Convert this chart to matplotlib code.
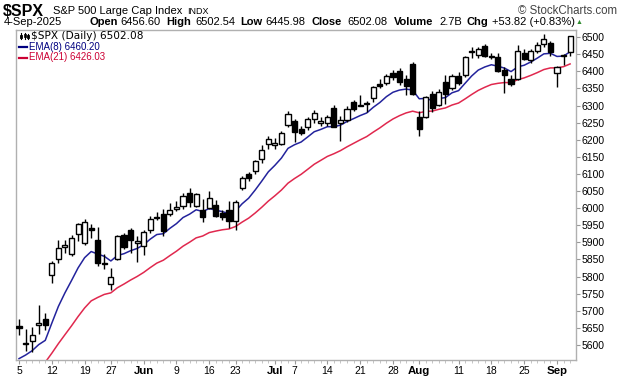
import matplotlib
matplotlib.use('Agg')
import matplotlib.pyplot as plt
from matplotlib.patches import Rectangle
from matplotlib.lines import Line2D
import numpy as np

# ---------------- data ----------------
opens = [5655, 5604, 5612, 5659, 5675, 5806, 5852, 5886, 5866, 5925,
         5898, 5942, 5908, 5839, 5778, 5852, 5921, 5936, 5899, 5890,
         5936, 5974, 5982, 5982, 5999, 6006, 6045, 6006, 5996, 6000,
         6009, 5986, 5996, 5963, 6058, 6100, 6108, 6145, 6189, 6184,
         6189, 6243, 6254, 6231, 6238, 6262, 6250, 6250, 6293, 6248,
         6257, 6309, 6300, 6308, 6321, 6364, 6365, 6394, 6401, 6377,
         6423, 6267, 6267, 6334, 6302, 6370, 6352, 6386, 6390, 6458,
         6448, 6474, 6444, 6442, 6403, 6378, 6378, 6454, 6432, 6461,
         6480, 6483, 6396, 6444, 6456.6]
highs = [5677, 5646, 5652, 5716, 5692, 5845, 5906, 5906, 5922, 5958,
         5968, 5953, 5946, 5866, 5826, 5922, 5928, 5943, 5918, 5936,
         5978, 5988, 5998, 6014, 6021, 6043, 6058, 6045, 6026, 6049,
         6025, 5995, 6021, 6025, 6095, 6107, 6142, 6184, 6210, 6206,
         6227, 6283, 6260, 6241, 6268, 6287, 6266, 6273, 6303, 6270,
         6299, 6317, 6332, 6312, 6358, 6378, 6392, 6403, 6409, 6389,
         6427, 6285, 6329, 6342, 6349, 6390, 6392, 6399, 6446, 6470,
         6472, 6481, 6453, 6455, 6412, 6388, 6476, 6466, 6466, 6487,
         6508, 6489, 6416, 6451, 6502.5]
lows = [5630, 5582, 5580, 5632, 5645, 5780, 5840, 5868, 5860, 5905,
        5893, 5912, 5830, 5823, 5760, 5848, 5881, 5868, 5842, 5862,
        5928, 5966, 5918, 5976, 5992, 5998, 6002, 6002, 5961, 5998,
        5974, 5966, 5942, 5937, 6052, 6080, 6100, 6132, 6172, 6174,
        6184, 6238, 6194, 6213, 6230, 6250, 6241, 6241, 6236, 6196,
        6252, 6284, 6298, 6282, 6311, 6352, 6360, 6375, 6361, 6332,
        6332, 6211, 6265, 6282, 6298, 6305, 6345, 6360, 6384, 6440,
        6440, 6443, 6436, 6398, 6337, 6357, 6376, 6432, 6425, 6453,
        6470, 6445, 6354, 6420, 6446]
closes = [5650, 5607, 5628, 5663, 5657, 5840, 5884, 5891, 5914, 5955,
          5960, 5936, 5840, 5836, 5798, 5918, 5885, 5906, 5905, 5931,
          5967, 5970, 5934, 5996, 6003, 6035, 6017, 6040, 5973, 6029,
          5977, 5975, 5963, 6018, 6087, 6087, 6137, 6170, 6201, 6192,
          6221, 6274, 6223, 6221, 6260, 6277, 6254, 6266, 6238, 6259,
          6291, 6291, 6302, 6305, 6353, 6358, 6386, 6384, 6368, 6358,
          6335, 6231, 6325, 6292, 6341, 6334, 6386, 6366, 6441, 6461,
          6464, 6445, 6442, 6400, 6390, 6364, 6461, 6435, 6461, 6478,
          6495, 6458, 6412, 6448, 6502.08]

# EMA values on the first visible day
ema8_start = 5560
ema21_start = 5507

tick_days = [0, 5, 10, 14, 19, 24, 29, 33, 39, 42, 47, 52, 57, 61, 67, 72, 77, 82]
tick_labels = ["5", "12", "19", "27", "Jun", "9", "16", "23", "Jul", "7", "14",
               "21", "28", "Aug", "11", "18", "25", "Sep"]
month_labels = {"Jun", "Jul", "Aug", "Sep"}
y_ticks = list(range(5600, 6501, 50))

# ---------------- figure ----------------
W, H = 620, 376
fig = plt.figure(figsize=(W / 100, H / 100), dpi=100)
plt.rcParams['font.family'] = ['Liberation Sans', 'DejaVu Sans']

L, R, T, B = 16, 576, 30, 360
ax = fig.add_axes([L / W, 1 - B / H, (R - L) / W, (B - T) / H])

n = len(closes)
x = np.arange(n)
o = np.array(opens, float); c = np.array(closes, float)
h = np.array(highs, float); lo = np.array(lows, float)

# wicks
ax.vlines(x, lo, h, color='black', linewidth=1.0, zorder=3)
# bodies
up = c >= o
bottom = np.minimum(o, c)
height = np.maximum(np.abs(c - o), 0.8)
bw = 0.78
ax.bar(x[up], height[up], bw, bottom=bottom[up], facecolor='white',
       edgecolor='black', linewidth=1.0, zorder=4)
ax.bar(x[~up], height[~up], bw, bottom=bottom[~up], facecolor='black',
       edgecolor='black', linewidth=1.0, zorder=4)

# EMAs
def ema(vals, span, start):
    a = 2.0 / (span + 1)
    out = [start]
    for v in vals[1:]:
        out.append(out[-1] + a * (v - out[-1]))
    return np.array(out)

e8 = ema(closes, 8, ema8_start)
e21 = ema(closes, 21, ema21_start)
ax.plot(x, e21, color='#e0284e', linewidth=1.1, zorder=2)
ax.plot(x, e8, color='#23239c', linewidth=1.1, zorder=2)

ax.set_xlim(-0.46, 84.9)
ax.set_ylim(5556, 6521)

ax.yaxis.tick_right()
ax.set_yticks(y_ticks)
ax.set_yticklabels([str(v) for v in y_ticks])
ax.tick_params(axis='y', direction='out', length=3, width=0.8, color='#999999',
               labelsize=7.5, pad=1, labelcolor='black')
ax.set_xticks(tick_days)
ax.set_xticklabels(tick_labels)
ax.set_xticks(x, minor=True)
ax.tick_params(axis='x', which='major', direction='out', length=3, width=0.8,
               color='#999999', labelsize=7.5, pad=1)
ax.tick_params(axis='x', which='minor', direction='out', length=2, width=0.6,
               color='#bbbbbb')
for lab in ax.get_xticklabels():
    if lab.get_text() in month_labels:
        lab.set_fontweight('bold')
        lab.set_fontsize(8.2)
for sp in ax.spines.values():
    sp.set_color('#b0b0b0')
    sp.set_linewidth(1.0)

# ---------------- header texts ----------------
def ftext(px, py, s, **kw):
    fig.text(px / W, 1 - py / H, s, va='center', ha=kw.pop('ha', 'left'), **kw)

ftext(3, 11, "$SPX", fontsize=11.5, fontweight='bold')
ftext(53, 11, "S&P 500 Large Cap Index", fontsize=8)
ftext(187, 11.5, "INDX", fontsize=6.5)
ftext(617, 11, "\u00a9 StockCharts.com", fontsize=8.3, ha='right', color='#444444')

row2 = [(4, "4-Sep-2025", 'normal'), (89, "Open", 'bold'), (120, "6456.60", 'normal'),
        (166, "High", 'bold'), (195, "6502.54", 'normal'), (240, "Low", 'bold'),
        (265, "6445.98", 'normal'), (312, "Close", 'bold'), (347, "6502.08", 'normal'),
        (394, "Volume", 'bold'), (439, "2.7B", 'normal'), (467, "Chg", 'bold'),
        (492, "+53.82 (+0.83%)", 'normal')]
for px, s, fw in row2:
    ftext(px, 22, s, fontsize=8, fontweight=fw)
ftext(576, 22, "\u25b2", fontsize=5, color='#2e8b2e')

# ---------------- legend inside chart ----------------
ftext(31, 36, "$SPX (Daily) 6502.08", fontsize=7.6, family=['DejaVu Sans'])
ftext(29, 47, "EMA(8) 6460.20", fontsize=7, color='#000080')
ftext(29, 57.5, "EMA(21) 6426.03", fontsize=7, color='#cc0033')
fig.add_artist(Line2D([19 / W, 27 / W], [1 - 47 / H, 1 - 47 / H], color='#000080', linewidth=1.6))
fig.add_artist(Line2D([19 / W, 27 / W], [1 - 57.5 / H, 1 - 57.5 / H], color='#cc0033', linewidth=1.6))
# small candle icon
for cx, y0, y1, filled in [(21, 33, 39, True), (25, 32.5, 38.5, False), (28, 34, 39, True)]:
    fig.add_artist(Line2D([cx / W, cx / W], [1 - y1 / H, 1 - y0 / H], color='black', linewidth=0.8))
    fig.add_artist(Rectangle(((cx - 1) / W, 1 - (y1 - 1.5) / H), 2 / W, (y1 - y0 - 3) / H,
                             facecolor='black' if filled else 'white', edgecolor='black',
                             linewidth=0.6))

fig.savefig('out.png', dpi=100)
